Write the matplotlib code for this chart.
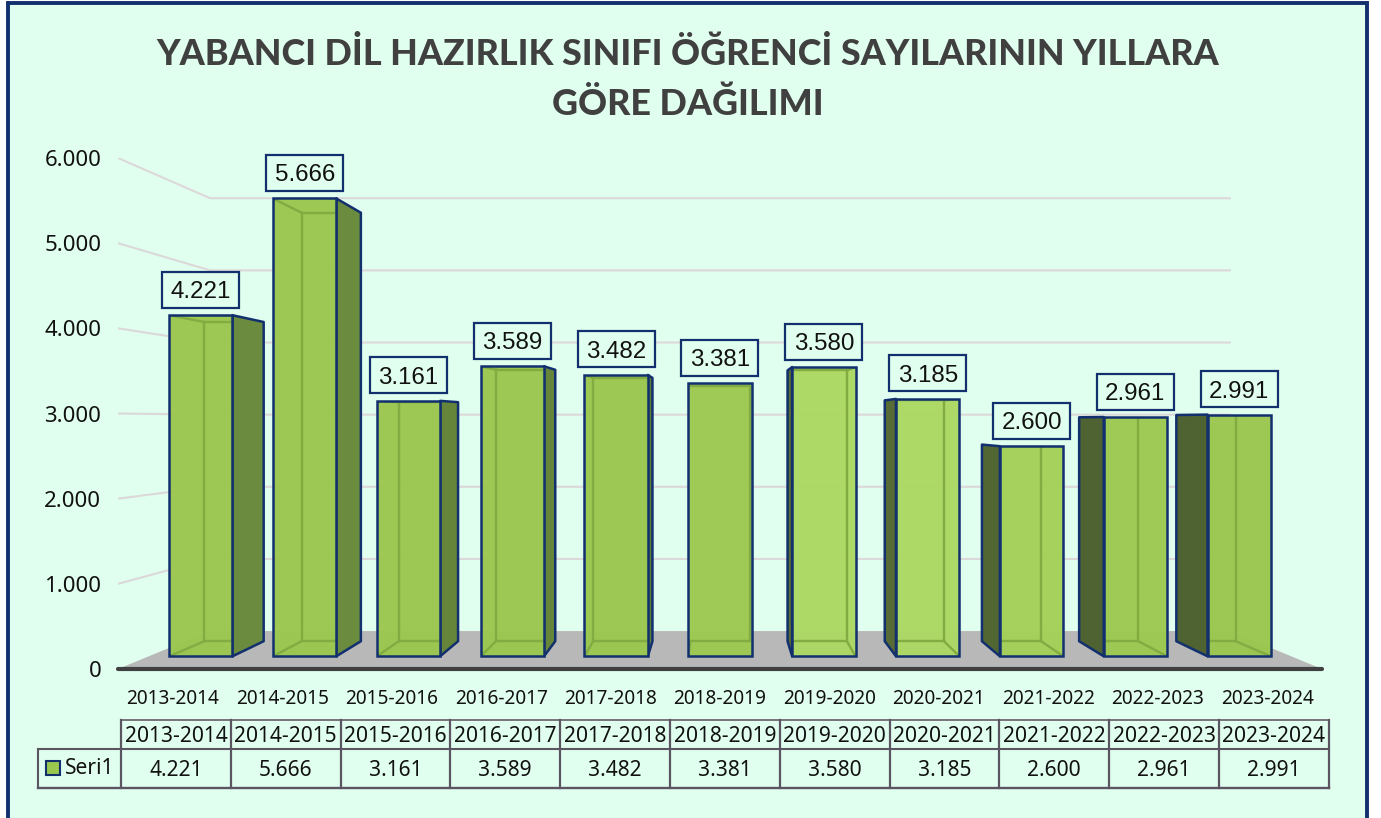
import matplotlib
matplotlib.use("Agg")
import matplotlib.pyplot as plt
from matplotlib.patches import Rectangle

years = ["2013-2014", "2014-2015", "2015-2016", "2016-2017", "2017-2018", "2018-2019",
         "2019-2020", "2020-2021", "2021-2022", "2022-2023", "2023-2024"]
students = [4221, 5666, 3161, 3589, 3482, 3381, 3580, 3185, 2600, 2961, 2991]
value_labels = ["4.221", "5.666", "3.161", "3.589", "3.482", "3.381", "3.580", "3.185", "2.600", "2.961", "2.991"]
y_ticks = [0, 1000, 2000, 3000, 4000, 5000, 6000]
y_tick_labels = ["0", "1.000", "2.000", "3.000", "4.000", "5.000", "6.000"]
series_name = "Seri1"
title = "YABANCI DİL HAZIRLIK SINIFI ÖĞRENCİ SAYILARININ YILLARA\nGÖRE DAĞILIMI"

BG = "#E1FFEF"
NAVY = "#12306E"
GRID = "#DCD8DA"
INNER = "#82AB42"
TEXT = "#111111"
W, H = 1381, 818

fig = plt.figure(figsize=(W / 100, H / 100), dpi=100, facecolor="white")

# page in pixel coordinates: frame, title, data table
page = fig.add_axes([0, 0, 1, 1])
page.set_xlim(0, W)
page.set_ylim(H, 0)
page.axis("off")
page.add_patch(Rectangle((8, 2.5), 1359, 830, fc=BG, ec=NAVY, lw=2.8))
page.text(688, 79, title, ha="center", va="center", fontsize=25.8, fontweight="black",
          family="Lato", color="#404040", linespacing=1.62)

# chart plane: 118..1322 px wide, 158..669 px tall
ax = fig.add_axes([118 / W, 1 - 669 / H, 1204 / W, 511 / H])
ax.set_xlim(0, 11)
ax.set_ylim(0, 6000)
ax.patch.set_alpha(0)
for side in ["top", "left", "right"]:
    ax.spines[side].set_visible(False)
ax.spines["bottom"].set_color("#404040")
ax.spines["bottom"].set_linewidth(3)
ax.spines["bottom"].set_capstyle("round")
ax.set_yticks(y_ticks, y_tick_labels, family="Noto Sans", fontsize=16, color=TEXT)
ax.set_xticks([i + 0.5 for i in range(len(years))], years, family="Noto Sans", fontsize=13.7, color=TEXT)
ax.tick_params(axis="y", length=0, pad=12)
ax.tick_params(axis="x", length=0, pad=14.5)

# perspective: everything shrinks towards a vanishing point
VX, VY = 5.5, 2912
S_WALL, S_FRONT, S_BACK = 0.847, 0.9487, 0.888
PX_X, PX_Y = 11 / 1204, 6000 / 511


def proj(x, v, s):
    return VX + s * (x - VX), VY + s * (v - VY)


# floor
fx, fy = zip(proj(0, 0, 1), proj(0, 0, S_WALL), proj(11, 0, S_WALL), proj(11, 0, 1))
ax.fill(fx, fy, color="#B8B8B8", zorder=1, lw=0)

# gridlines with their side wall
for t in y_ticks[1:]:
    a = proj(0, t, 1)
    b = proj(0, t, S_WALL)
    c = proj(11, t, S_WALL)
    ax.plot([a[0], b[0], c[0]], [a[1], b[1], c[1]], color=GRID, lw=1.5, zorder=1.5, solid_joinstyle="round")

half = 0.305
face_colors = ["#9AC74E", "#9AC74E", "#9AC74E", "#9AC74E", "#9AC74E", "#9CC950",
               "#ACD862", "#ACD862", "#A4D058", "#9DC950", "#9AC74E"]
side_colors = ["#6B8C3E", "#6B8C3E", "#65863A", "#65863A", "#60803A", "#5A7038",
               "#566B36", "#566B36", "#526634", "#4E6232", "#4E6232"]

for i, val in enumerate(students):
    xl, xr = i + 0.5 - half, i + 0.5 + half
    fl = proj(xl, 0, S_FRONT)
    fr_top = proj(xr, val, S_FRONT)
    bl_b, bl_t = proj(xl, 0, S_BACK), proj(xl, val, S_BACK)
    br_b, br_t = proj(xr, 0, S_BACK), proj(xr, val, S_BACK)

    # outer side face
    if i != 5:
        xo = xr if i < 5 else xl
        p = [proj(xo, 0, S_FRONT), proj(xo, val, S_FRONT), proj(xo, val, S_BACK), proj(xo, 0, S_BACK)]
        ax.fill([q[0] for q in p], [q[1] for q in p], fc=side_colors[i], ec=NAVY, lw=1.8,
                zorder=3, joinstyle="round")

    # front face
    face = ax.bar(fl[0], fr_top[1] - fl[1], width=fr_top[0] - fl[0], bottom=fl[1], align="edge",
                  color=face_colors[i], alpha=0.97, zorder=4, lw=0)[0]

    # back edges seen through the front, kept inside the front face
    xi = xl if i <= 5 else xr
    inner = [
        ([bl_b[0], bl_t[0]] if i < 5 else [br_b[0], br_t[0]], [bl_b[1], bl_t[1]] if i < 5 else [br_b[1], br_t[1]]),
        ([bl_b[0], br_b[0]], [bl_b[1], br_b[1]]),
        ([bl_t[0], br_t[0]], [bl_t[1], br_t[1]]),
        list(zip(proj(xi, 0, S_FRONT), proj(xi, 0, S_BACK))),
        list(zip(proj(xi, val, S_FRONT), proj(xi, val, S_BACK))),
    ]
    for line_x, line_y in inner:
        ln = ax.plot(line_x, line_y, color=INNER, lw=1.7, zorder=5)[0]
        ln.set_clip_path(face)

    # front outline on top
    ax.bar(fl[0], fr_top[1] - fl[1], width=fr_top[0] - fl[0], bottom=fl[1], align="edge",
           fill=False, ec=NAVY, lw=1.8, zorder=6)

    # value label box
    cx = (fl[0] + fr_top[0]) / 2
    cy = fr_top[1] + 25.5 * PX_Y
    ax.add_patch(Rectangle((cx - 38.5 * PX_X, cy - 18 * PX_Y), 77 * PX_X, 36 * PX_Y, fc=BG, ec=NAVY,
                           lw=1.6, zorder=7, clip_on=False))
    ax.text(cx, cy, value_labels[i], ha="center", va="center_baseline", family="Liberation Sans",
            fontsize=17.4, color=TEXT, zorder=8)

# data table under the chart
TBL = "#5A5560"
col_x = [121 + 109.8 * i for i in range(len(years) + 1)]
y0, y1, y2 = 719.5, 749, 787.5
page.plot([col_x[0], col_x[-1]], [y0, y0], color="#777379", lw=1.4)
page.plot([38, col_x[-1]], [y1, y1], color=TBL, lw=1.5)
page.plot([38, col_x[-1]], [y2, y2], color=TBL, lw=1.7)
page.plot([38, 38], [y1, y2], color=TBL, lw=1.5)
for x in col_x:
    page.plot([x, x], [y0, y2], color=TBL, lw=1.6)
for i, yr in enumerate(years):
    mid = (col_x[i] + col_x[i + 1]) / 2
    page.text(mid, 736, yr, ha="center", va="center", family="Noto Sans", fontsize=15.1, color=TEXT)
    page.text(mid, 770.5, value_labels[i], ha="center", va="center", family="Noto Sans", fontsize=15.1, color=TEXT)
page.add_patch(Rectangle((46, 761), 14, 14, fc="#9AC74E", ec=NAVY, lw=1.5))
page.text(65, 768.5, series_name, ha="left", va="center", family="Noto Sans", fontsize=15.1, color=TEXT)

fig.savefig("out.png", dpi=100, facecolor="white")
